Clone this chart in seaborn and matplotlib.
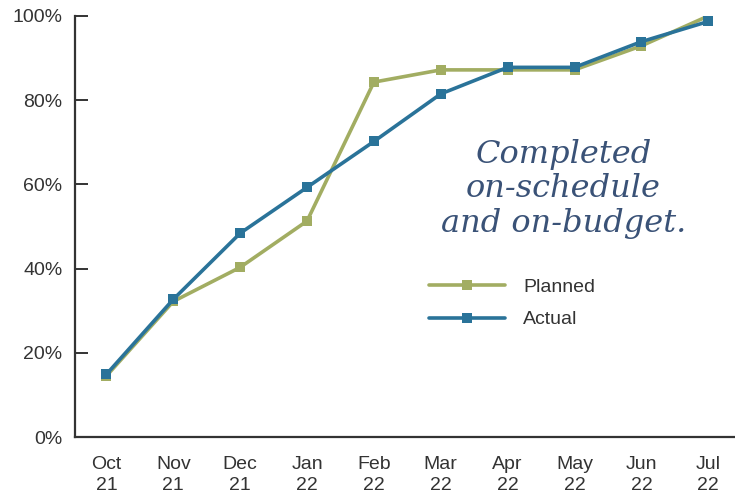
import matplotlib
matplotlib.use('Agg')
import pandas as pd
import matplotlib.pyplot as plt
import seaborn as sns

# Chart values
months = ['Oct\n21', 'Nov\n21', 'Dec\n21', 'Jan\n22', 'Feb\n22',
          'Mar\n22', 'Apr\n22', 'May\n22', 'Jun\n22', 'Jul\n22']
planned = [14.5, 32.2, 40.3, 51.3, 84.3, 87.2, 87.2, 87.2, 92.9, 100.0]
actual = [14.9, 32.7, 48.4, 59.3, 70.2, 81.5, 87.8, 87.8, 93.9, 98.7]
y_ticks = [0, 20, 40, 60, 80, 100]
note_lines = ['Completed', 'on-schedule', 'and on-budget.']

green = '#a2ad62'
blue = '#2a7399'
ink = '#333333'

# Build a long table for seaborn
df = pd.DataFrame({
    'pos': list(range(len(months))) * 2,
    'value': planned + actual,
    'series': ['Planned'] * len(months) + ['Actual'] * len(months),
})

sns.set_style('white')
plt.rcParams['font.family'] = ['Liberation Sans', 'DejaVu Sans']

fig = plt.figure(figsize=(7.35, 4.96), dpi=100)
ax = fig.add_axes([75 / 735, 59 / 496, 1 - 75 / 735, (437 - 16) / 496])

sns.lineplot(data=df, x='pos', y='value', hue='series', style='series',
             palette={'Planned': green, 'Actual': blue},
             markers={'Planned': 's', 'Actual': 's'}, dashes=False,
             markersize=7.5, markeredgewidth=0, linewidth=2.6,
             sort=False, ax=ax)

ax.set_xlim(-0.47, 9.4)
ax.set_ylim(0, 100)
ax.set_xlabel('')
ax.set_ylabel('')

# x labels under each month, tick marks between months
ax.set_xticks(range(len(months)))
ax.set_xticklabels(months, fontsize=14, color=ink, linespacing=1.3)
ax.set_xticks([i + 0.5 for i in range(len(months) - 1)], minor=True)
ax.tick_params(axis='x', which='major', length=0, pad=14)
ax.tick_params(axis='x', which='minor', direction='in', length=9,
               width=1.4, color=ink)

ax.set_yticks(y_ticks)
ax.set_yticklabels([f'{t}%' for t in y_ticks], fontsize=14, color=ink)
ax.tick_params(axis='y', direction='in', length=9, width=1.4,
               color=ink, pad=9, left=True)

for side in ['top', 'right']:
    ax.spines[side].set_visible(False)
for side in ['left', 'bottom']:
    ax.spines[side].set_color(ink)
    ax.spines[side].set_linewidth(1.6)

# handwritten note
ax.text(0.74, 0.59, '\n'.join(note_lines), transform=ax.transAxes,
        ha='center', va='center', fontsize=23, color='#3a5277',
        fontstyle='italic', family=['DejaVu Serif'], linespacing=1.15)

leg = ax.legend(loc='upper left', bbox_to_anchor=(0.51, 0.418),
                frameon=False, fontsize=14, handlelength=3.9,
                handletextpad=0.95, labelspacing=0.75)
for txt in leg.get_texts():
    txt.set_color(ink)

fig.savefig('out.png', dpi=100)
